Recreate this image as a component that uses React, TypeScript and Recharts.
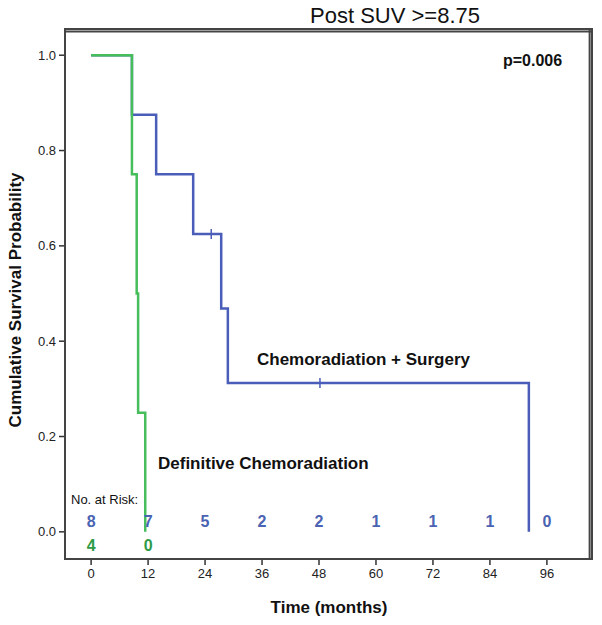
import React from 'react';
import { ComposedChart, Line, Scatter, XAxis, YAxis, ReferenceLine } from 'recharts';

// at-risk table
const months = [0, 12, 24, 36, 48, 60, 72, 84, 96];
const surgeryAtRisk = [8, 7, 5, 2, 2, 1, 1, 1, 0];
const definitiveAtRisk = [4, 0];

// KM steps
const surgeryTimes = [0, 8.6, 13.7, 21.5, 27.4, 28.8, 92.2];
const surgerySurvival = [1, 0.875, 0.75, 0.625, 0.46875, 0.3125, 0];
const definitiveTimes = [0, 8.6, 9.6, 9.9, 11.4];
const definitiveSurvival = [1, 0.75, 0.5, 0.25, 0];

// censored
const censorTimes = [25.3, 48.2];
const censorSurvival = [0.625, 0.3125];

const yTicks = [0, 0.2, 0.4, 0.6, 0.8, 1.0];

const BLUE = '#4a5db8';
const GREEN = '#45be5b';
const BLUE_TXT = '#4a63b2';
const GREEN_TXT = '#2e9b47';
const FONT = '"Liberation Sans", Arial, sans-serif';

const X_MIN = -5.5, X_MAX = 105.5;
const Y_MIN = -0.057, Y_MAX = 1.055;

export default function App() {
    const surgery = surgeryTimes.map((t, i) => ({ t, s: surgerySurvival[i] }))
    const definitive = definitiveTimes.map((t, i) => ({ t, s: definitiveSurvival[i] }))
    const censored = censorTimes.map((t, i) => ({ t, s: censorSurvival[i] }))
    const blueRow = months.map((t, i) => ({ t, s: 0.023, n: surgeryAtRisk[i] }))
    const greenRow = definitiveAtRisk.map((n, i) => ({ t: months[i], s: -0.027, n }))

    const numberShape = (color: string) => (props: any) => (
        <text x={props.cx} y={props.cy} dy={6} textAnchor="middle" fontSize={16}
            fontWeight="bold" fill={color} fontFamily={FONT}>
            {props.payload.n}
        </text>
    )

    const censorShape = (props: any) => (
        <line x1={props.cx} x2={props.cx} y1={props.cy - 5} y2={props.cy + 5} stroke={BLUE} strokeWidth={1.5} />
    )

    return (
        <div style={{ position: 'relative', margin: -8, width: 602, height: 625, background: '#fff' }}>
            <ComposedChart width={602} height={625} margin={{ top: 29, right: 10, left: 15, bottom: 36 }}
                style={{ fontFamily: FONT }}>
                <XAxis dataKey="t" type="number" domain={[X_MIN, X_MAX]} ticks={months}
                    allowDataOverflow height={30} tickSize={6} tickMargin={4}
                    stroke="#444" strokeWidth={2} tickLine={{ stroke: '#333', strokeWidth: 1.5 }}
                    tick={{ fontSize: 13, fill: '#222', fontFamily: FONT }} />
                <YAxis dataKey="s" type="number" domain={[Y_MIN, Y_MAX]} ticks={yTicks}
                    allowDataOverflow width={50} tickSize={6} tickMargin={3}
                    stroke="#444" strokeWidth={2} tickLine={{ stroke: '#333', strokeWidth: 1.5 }}
                    tickFormatter={(v: number) => v.toFixed(1)}
                    tick={{ fontSize: 13, fill: '#222', fontFamily: FONT }} />
                {/* top and right sides of the frame */}
                <ReferenceLine y={1.05} stroke="#444" strokeWidth={2} />
                <ReferenceLine x={105} stroke="#444" strokeWidth={2} />
                <Line data={surgery} dataKey="s" type="stepAfter" stroke={BLUE} strokeWidth={2.5}
                    dot={false} isAnimationActive={false} />
                <Line data={definitive} dataKey="s" type="stepAfter" stroke={GREEN} strokeWidth={2.5}
                    dot={false} isAnimationActive={false} />
                <Scatter data={censored} dataKey="s" shape={censorShape} isAnimationActive={false} />
                <Scatter data={blueRow} dataKey="s" shape={numberShape(BLUE_TXT)} isAnimationActive={false} />
                <Scatter data={greenRow} dataKey="s" shape={numberShape(GREEN_TXT)} isAnimationActive={false} />

                <text x={395} y={23} textAnchor="middle" fontSize={22} fill="#111" fontFamily={FONT}>Post SUV &gt;=8.75</text>
                <text x={503} y={66} fontSize={16} fontWeight="bold" fill="#111" fontFamily={FONT}>p=0.006</text>
                <text x={257} y={365} fontSize={17} fontWeight="bold" fill="#111" fontFamily={FONT}>Chemoradiation + Surgery</text>
                <text x={158} y={469} fontSize={17} fontWeight="bold" fill="#111" fontFamily={FONT}>Definitive Chemoradiation</text>
                <text x={71} y={504} fontSize={13} fill="#111" fontFamily={FONT}>No. at Risk:</text>
                <text x={329} y={613} textAnchor="middle" fontSize={17} fontWeight="bold" fill="#111" fontFamily={FONT}>Time (months)</text>
                <text transform="translate(21, 300) rotate(-90)" textAnchor="middle" fontSize={17} fontWeight="bold"
                    fill="#111" fontFamily={FONT}>Cumulative Survival Probability</text>
            </ComposedChart>
            <div style={{
                position: 'absolute', left: 64, top: 28, width: 529, height: 532,
                boxSizing: 'border-box', border: '2px solid #444', pointerEvents: 'none'
            }} />
        </div>
    )
}
